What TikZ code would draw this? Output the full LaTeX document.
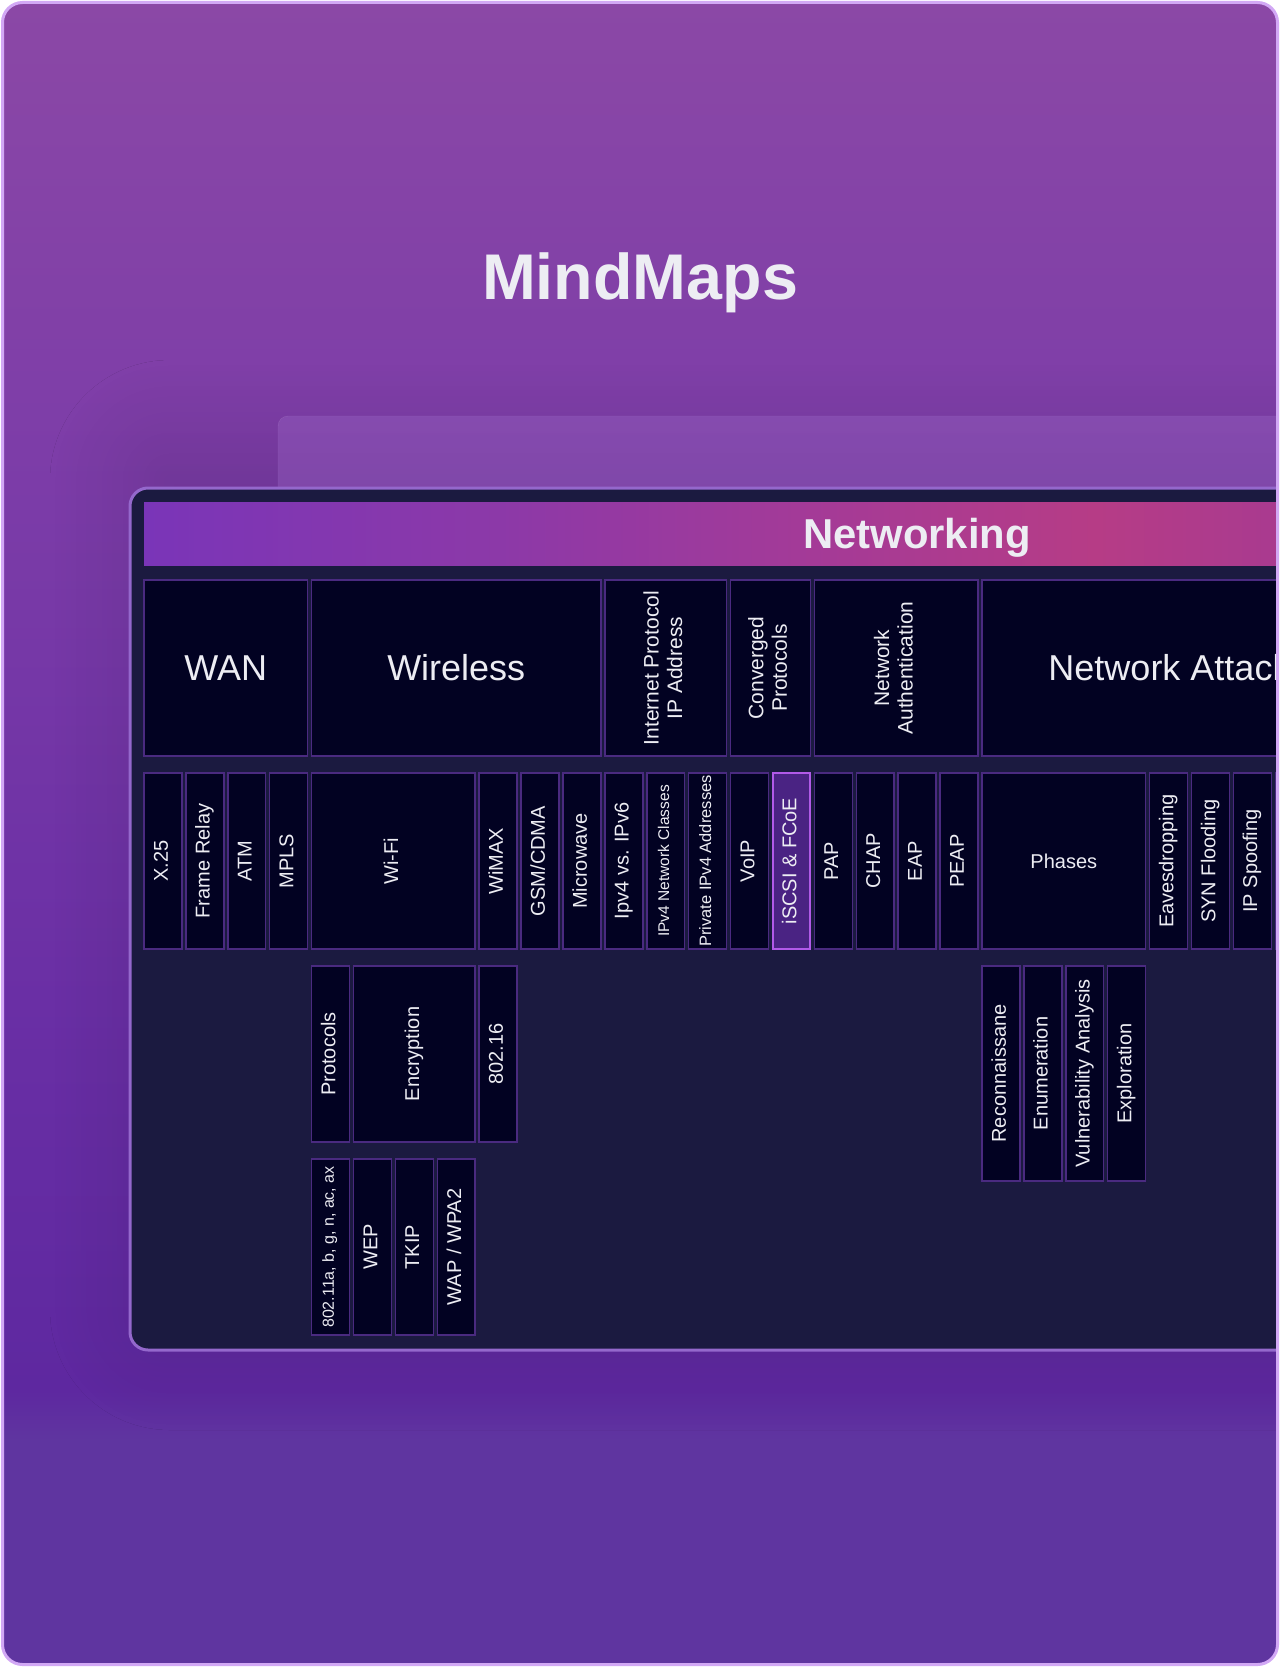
\documentclass[tikz,border=0pt]{standalone}
\usepackage{fontspec}
\setmainfont{Liberation Sans}
\usepackage{graphicx}
\usetikzlibrary{positioning, shadows.blur}

\definecolor{cardA}{HTML}{8B48A6}
\definecolor{cardB}{HTML}{7D3DA8}
\definecolor{cardC}{HTML}{6A2FA5}
\definecolor{cardD}{HTML}{5E28A0}
\definecolor{cardE}{HTML}{5F35A0}
\definecolor{cardline}{HTML}{D2A8F5}
\definecolor{ghost}{HTML}{A470D0}
\definecolor{panelfill}{HTML}{1B1A40}
\definecolor{panelline}{HTML}{9468CC}
\definecolor{boxfill}{HTML}{020222}
\definecolor{boxline}{HTML}{4A2A80}
\definecolor{hotfill}{HTML}{4A2383}
\definecolor{hotline}{HTML}{B15AE8}
\definecolor{ink}{HTML}{EDEDF3}
\definecolor{headA}{HTML}{7A35B8}
\definecolor{headB}{HTML}{8C39A8}
\definecolor{headC}{HTML}{A33A98}
\definecolor{headD}{HTML}{B63C86}
\definecolor{headE}{HTML}{A83A90}

% shadings: the middle 50bp is fitted to the path
\pgfdeclareverticalshading{cardshade}{100bp}{
  color(0bp)=(cardE); color(31.75bp)=(cardE); color(33.25bp)=(cardD);
  color(45bp)=(cardC); color(61.5bp)=(cardB); color(75bp)=(cardA);
  color(100bp)=(cardA)}
\pgfdeclarehorizontalshading{headshade}{100bp}{
  color(0bp)=(headA); color(25bp)=(headA); color(40.5bp)=(headB);
  color(53.5bp)=(headC); color(66.5bp)=(headD); color(75bp)=(headE);
  color(100bp)=(headE)}

\newcommand{\vtext}[1]{\rotatebox{90}{\begin{tabular}{@{}c@{}}#1\end{tabular}}}

\tikzset{
  cols/.style={minimum width={#1*41.9pt-4pt}},
  topic/.style={
    rectangle, draw=boxline, line width=1.5pt, fill=boxfill,
    text=ink, inner sep=0pt, outer sep=0pt, minimum height=176pt, cols=1,
    font=\fontsize{36}{40}\selectfont
  },
  topicv/.style={topic, font=\fontsize{21}{23.5}\selectfont},
  leaf/.style={topic, font=\fontsize{20}{24}\selectfont},
  hot/.style={leaf, fill=hotfill, draw=hotline, line width=2pt},
  phase/.style={leaf, minimum height=215pt},
  tiny/.style={font=\fontsize{#1}{#1}\selectfont}
}

\begin{document}
\begin{tikzpicture}[x=1pt, y=-1pt]
  \useasboundingbox (0,0) rectangle (1280,1667);
  \fill[white] (0,0) rectangle (1280,1667);

  \begin{scope}
    \clip[rounded corners=20pt] (2,2) rectangle (1278,1665);
    \shade[shading=cardshade] (2,2) rectangle (1278,1665);

    \node[text=ink, anchor=base, font=\bfseries\fontsize{64.6}{70}\selectfont]
      (title) at (640,299) {MindMaps};

    % glow behind the board
    \path[rounded corners=40pt, blur shadow={shadow xshift=0pt, shadow yshift=0pt,
      shadow blur radius=80pt, shadow opacity=11, shadow blur steps=16}]
      (130,440) rectangle (1330,1350);
    \path[fill=ghost, fill opacity=0.3, draw=white, draw opacity=0.12,
      rounded corners=10pt] (278,416) rectangle (1330,700);

    % board
    \path[fill=panelfill, draw=panelline, line width=3pt, rounded corners=18pt]
      (130,488) rectangle (1330,1350);
    \shade[shading=headshade] (144,502) rectangle (1290,565);
    \node[text=ink, anchor=base, font=\bfseries\fontsize{41.8}{46}\selectfont]
      (root) at (917,548) {Networking};

    % first level
    \node[topic, cols=4, anchor=north west] (wan) at (144,580) {WAN};
    \node[topic, cols=7, right=4pt of wan] (wireless) {Wireless};
    \node[topicv, cols=3, right=4pt of wireless] (ipaddr) {\vtext{Internet Protocol\\IP Address}};
    \node[topicv, cols=2, right=4pt of ipaddr] (converged) {\vtext{Converged\\Protocols}};
    \node[topicv, cols=4, right=4pt of converged] (netauth) {\vtext{Network\\Authentication}};
    \node[topic, minimum width=393pt, right=4pt of netauth] (attacks) {Network Attacks};

    % second level
    \node[leaf, below right=17pt and 0pt of wan.south west] (x25) {\vtext{X.25}};
    \node[leaf, right=4pt of x25] (framerelay) {\vtext{Frame Relay}};
    \node[leaf, right=4pt of framerelay] (atm) {\vtext{ATM}};
    \node[leaf, right=4pt of atm] (mpls) {\vtext{MPLS}};
    \node[leaf, cols=4, right=4pt of mpls] (wifi) {\vtext{Wi-Fi}};
    \node[leaf, right=4pt of wifi] (wimax) {\vtext{WiMAX}};
    \node[leaf, right=4pt of wimax] (gsm) {\vtext{GSM/CDMA}};
    \node[leaf, right=4pt of gsm] (microwave) {\vtext{Microwave}};
    \node[leaf, right=4pt of microwave] (ipversions) {\vtext{Ipv4 vs. IPv6}};
    \node[leaf, tiny=15.5, right=4pt of ipversions] (ipclasses) {\vtext{IPv4 Network Classes}};
    \node[leaf, tiny=16.5, right=4pt of ipclasses] (privateip) {\vtext{Private IPv4 Addresses}};
    \node[leaf, right=4pt of privateip] (voip) {\vtext{VoIP}};
    \node[hot, right=4pt of voip] (iscsi) {\vtext{iSCSI \& FCoE}};
    \node[leaf, right=4pt of iscsi] (pap) {\vtext{PAP}};
    \node[leaf, right=4pt of pap] (chap) {\vtext{CHAP}};
    \node[leaf, right=4pt of chap] (eap) {\vtext{EAP}};
    \node[leaf, right=4pt of eap] (peap) {\vtext{PEAP}};
    \node[leaf, cols=4, right=4pt of peap] (phases) {Phases};
    \node[leaf, right=4pt of phases] (eavesdrop) {\vtext{Eavesdropping}};
    \node[leaf, right=4pt of eavesdrop] (synflood) {\vtext{SYN Flooding}};
    \node[leaf, right=4pt of synflood] (spoofing) {\vtext{IP Spoofing}};
    \node[leaf, right=4pt of spoofing] (attacknext) {};

    % third and fourth level
    \node[leaf, below right=17pt and 0pt of wifi.south west] (protocols) {\vtext{Protocols}};
    \node[leaf, cols=3, right=4pt of protocols] (encryption) {\vtext{Encryption}};
    \node[leaf, below right=17pt and 0pt of wimax.south west] (ieee16) {\vtext{802.16}};
    \node[leaf, tiny=16, below right=17pt and 0pt of protocols.south west] (ieee11) {\vtext{802.11a, b, g, n, ac, ax}};
    \node[leaf, below right=17pt and 0pt of encryption.south west] (wep) {\vtext{WEP}};
    \node[leaf, right=4pt of wep] (tkip) {\vtext{TKIP}};
    \node[leaf, right=4pt of tkip] (wpa) {\vtext{WAP / WPA2}};

    \node[phase, below right=17pt and 0pt of phases.south west] (recon) {\vtext{Reconnaissane}};
    \node[phase, right=4pt of recon] (enumeration) {\vtext{Enumeration}};
    \node[phase, right=4pt of enumeration] (vulnscan) {\vtext{Vulnerability Analysis}};
    \node[phase, right=4pt of vulnscan] (exploration) {\vtext{Exploration}};
  \end{scope}

  \draw[cardline, line width=3pt, rounded corners=20pt] (2.5,2.5) rectangle (1277.5,1664.5);
\end{tikzpicture}
\end{document}
